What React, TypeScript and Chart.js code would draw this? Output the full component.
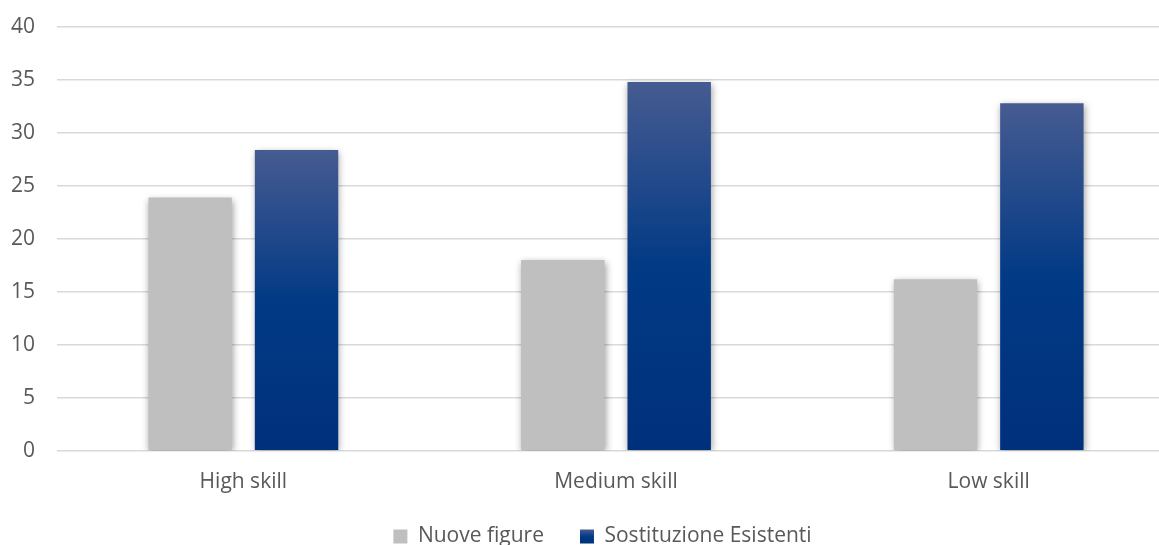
import { useEffect, useRef } from "react";
import { Chart, registerables } from "chart.js";

Chart.register(...registerables);

const categories = ["High skill", "Medium skill", "Low skill"];
const seriesNames = ["Nuove figure", "Sostituzione Esistenti"];
const nuoveFigure = [23.9, 18.0, 16.2];
const sostituzioneEsistenti = [28.4, 34.8, 32.8];
const yTicks = { min: 0, max: 40, step: 5 };

const FONT = "'Open Sans', Lato, sans-serif";
const FONT_SIZE = 21;
const TEXT = "#595959";
const GREY = "#bfbfbf";
const BLUE_STOPS: [number, string][] = [
  [0, "#465b91"],
  [0.5, "#023a85"],
  [1, "#00307b"],
];

const LEGEND_PAD = 36;

function verticalGradient(c: CanvasRenderingContext2D, top: number, bottom: number) {
  const g = c.createLinearGradient(0, top, 0, bottom);
  BLUE_STOPS.forEach(([at, col]) => g.addColorStop(at, col));
  return g;
}

// Gradient runs from the top of each bar down to the zero line.
const blueFill = (ctx: any) => {
  const chart = ctx.chart;
  const y = chart.scales?.y;
  if (!chart.chartArea || !y || ctx.type !== "data") return "#043a85";
  const top = y.getPixelForValue(ctx.raw);
  const base = y.getPixelForValue(0);
  if (!isFinite(top) || !isFinite(base)) return "#043a85";
  return verticalGradient(chart.ctx, top, base);
};

// Soft drop shadow behind the bars.
const barShadow = {
  id: "barShadow",
  beforeDatasetsDraw(chart: any) {
    const c = chart.ctx;
    c.save();
    c.shadowColor = "rgba(0,0,0,0.38)";
    c.shadowBlur = 7;
    c.shadowOffsetX = 1;
    c.shadowOffsetY = 2;
  },
  afterDatasetsDraw(chart: any) {
    chart.ctx.restore();
  },
};

// Nudges the legend box after layout.
const legendOffset = {
  id: "legendOffset",
  afterLayout(chart: any, _args: any, opts: any) {
    const l = chart.legend;
    if (!l) return;
    l.left += opts.dx || 0;
    l.right += opts.dx || 0;
    l.top += opts.dy || 0;
    l.bottom += opts.dy || 0;
  },
};

export default function App() {
  const ref = useRef<HTMLCanvasElement>(null);

  useEffect(() => {
    if (!ref.current) return;
    const chart = new Chart(ref.current, {
      type: "bar",
      data: {
        labels: categories,
        datasets: [
          {
            label: seriesNames[0],
            data: nuoveFigure,
            backgroundColor: GREY,
            borderWidth: 0,
          },
          {
            label: seriesNames[1],
            data: sostituzioneEsistenti,
            backgroundColor: blueFill,
            borderWidth: 0,
          },
        ],
      },
      options: {
        responsive: false,
        animation: false,
        devicePixelRatio: 1,
        categoryPercentage: 0.571,
        barPercentage: 0.784,
        layout: { padding: { top: 0, left: 8, right: 0, bottom: 0 } },
        plugins: {
          legend: {
            position: "bottom",
            labels: {
              font: { family: FONT, size: FONT_SIZE },
              color: TEXT,
              boxWidth: 14,
              boxHeight: 14,
              padding: LEGEND_PAD,
              generateLabels(chart: any) {
                const items = Chart.defaults.plugins.legend.labels.generateLabels(chart);
                const l = chart.legend;
                const cy = l ? l.top + LEGEND_PAD + FONT_SIZE / 2 : NaN;
                items.forEach((it: any, i: number) => {
                  it.lineWidth = 0;
                  it.strokeStyle = "rgba(0,0,0,0)";
                  if (i === 1) {
                    it.fillStyle = isFinite(cy)
                      ? verticalGradient(chart.ctx, cy - 7, cy + 7)
                      : "#043a85";
                  }
                });
                return items;
              },
            },
          },
          legendOffset: { dx: 11, dy: -24 },
          tooltip: { enabled: false },
        },
        scales: {
          x: {
            grid: { display: false, drawTicks: false },
            border: { display: false },
            ticks: {
              font: { family: FONT, size: FONT_SIZE },
              color: TEXT,
              padding: 19,
            },
          },
          y: {
            min: yTicks.min,
            max: yTicks.max,
            grid: { color: "#d9d9d9", lineWidth: 1.5, drawTicks: false },
            border: { display: false },
            ticks: {
              stepSize: yTicks.step,
              font: { family: FONT, size: FONT_SIZE },
              color: TEXT,
              padding: 22,
            },
            afterFit(scale: any) {
              scale.width = 49;
              scale.paddingTop = 27;
              scale.paddingBottom = 0;
            },
          },
        },
      },
      plugins: [barShadow, legendOffset],
    });
    return () => chart.destroy();
  }, []);

  return (
    <div
      style={{
        position: "absolute",
        left: 0,
        top: 0,
        width: 1159,
        height: 545,
        overflow: "hidden",
        background: "#ffffff",
      }}
    >
      <canvas ref={ref} width={1175} height={581} style={{ display: "block" }} />
    </div>
  );
}
